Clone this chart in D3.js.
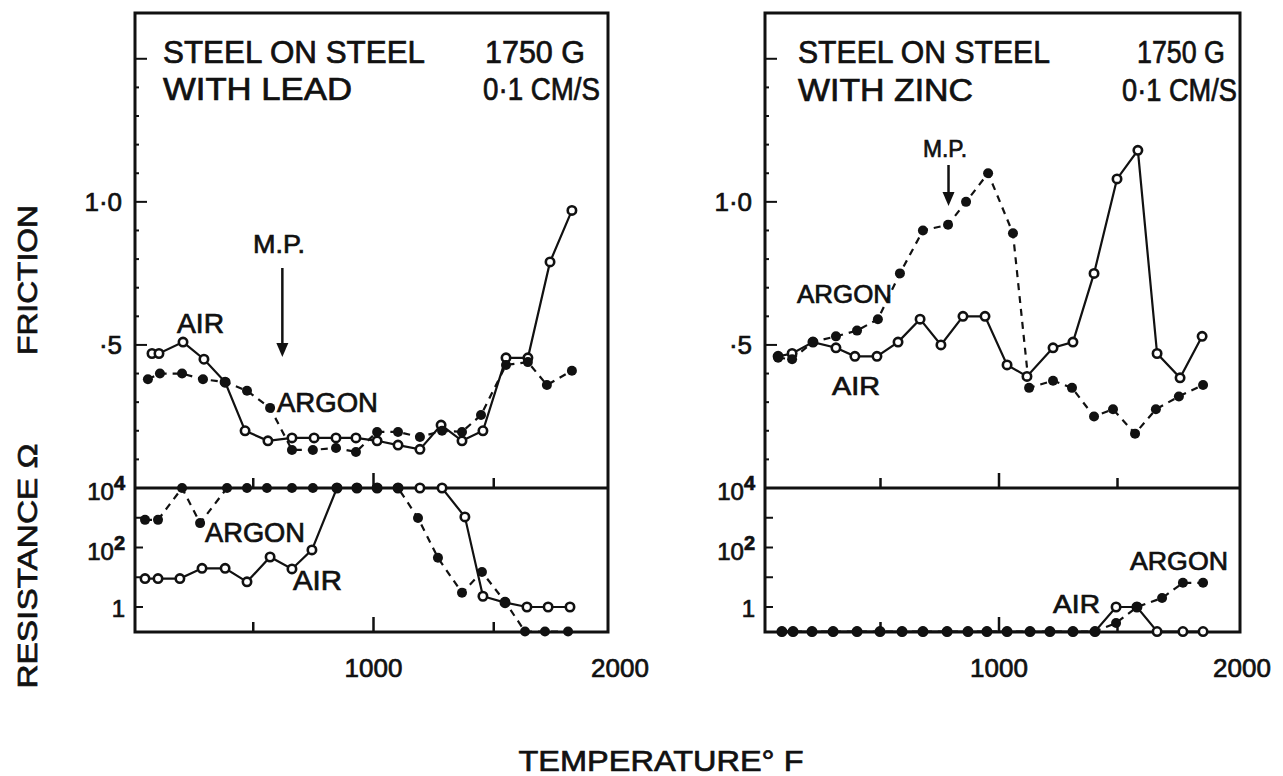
<!DOCTYPE html>
<html>
<head>
<meta charset="utf-8">
<script src="https://cdn.jsdelivr.net/npm/d3@7"></script>
<style>
  body { margin: 0; background: #fff; }
  text { font-family: "Liberation Sans", Arial, sans-serif; fill: #111; stroke: #111; stroke-width: 0.7px; }
</style>
</head>
<body>
<div class="chart"></div>
<script>
//Friction and contact resistance vs temperature, steel on steel with lead / zinc
const width = 1283;
const height = 776;

//Lead panel - friction
const leadAirTemp = [79, 108, 208, 295, 383, 466, 561, 661, 753, 844, 927, 1015, 1102, 1193, 1281, 1368, 1455, 1551, 1642, 1734, 1825];
const leadAirFriction = [0.47, 0.47, 0.51, 0.45, 0.37, 0.2, 0.165, 0.175, 0.175, 0.175, 0.175, 0.165, 0.15, 0.135, 0.22, 0.165, 0.2, 0.455, 0.455, 0.79, 0.97];
const leadArgonTemp = [62, 112, 204, 291, 383, 474, 570, 661, 748, 844, 927, 1015, 1102, 1193, 1285, 1368, 1447, 1551, 1642, 1721, 1825];
const leadArgonFriction = [0.38, 0.4, 0.4, 0.38, 0.37, 0.34, 0.28, 0.133, 0.133, 0.14, 0.126, 0.196, 0.196, 0.178, 0.2, 0.196, 0.255, 0.43, 0.44, 0.36, 0.41];
//Lead panel - resistance (ohm)
const leadAirResTemp = [50, 104, 195, 287, 383, 474, 570, 661, 744, 848, 931, 1015, 1102, 1193, 1285, 1380, 1455, 1547, 1638, 1726, 1817];
const leadAirRes = [9, 9, 9, 20, 20, 7, 48, 19, 83, 1e4, 1e4, 1e4, 1e4, 1e4, 1e4, 1070, 2.3, 1.4, 1, 1, 1];
const leadArgonResTemp = [50, 104, 204, 279, 391, 474, 557, 661, 748, 848, 931, 1015, 1102, 1185, 1268, 1368, 1451, 1547, 1630, 1713, 1809];
const leadArgonRes = [850, 850, 1e4, 660, 1e4, 1e4, 1e4, 1e4, 1e4, 1e4, 1e4, 1e4, 1e4, 980, 45, 3, 15, 1.5, 0.15, 0.15, 0.15];

//Zinc panel - friction
const zincAirTemp = [68, 127, 215, 312, 392, 485, 574, 667, 755, 848, 941, 1034, 1118, 1228, 1312, 1401, 1498, 1586, 1667, 1764, 1857];
const zincAirFriction = [0.46, 0.47, 0.51, 0.49, 0.46, 0.46, 0.51, 0.59, 0.5, 0.6, 0.6, 0.43, 0.39, 0.49, 0.51, 0.75, 1.08, 1.18, 0.47, 0.385, 0.53];
const zincArgonTemp = [68, 127, 215, 312, 401, 489, 582, 679, 785, 861, 954, 1059, 1127, 1228, 1308, 1401, 1481, 1574, 1662, 1759, 1861];
const zincArgonFriction = [0.455, 0.45, 0.51, 0.53, 0.55, 0.59, 0.75, 0.9, 0.92, 1.0, 1.1, 0.89, 0.35, 0.375, 0.35, 0.25, 0.275, 0.19, 0.275, 0.32, 0.36];
//Zinc panel - resistance (ohm)
const zincAirResTemp = [84, 131, 211, 300, 401, 498, 591, 679, 781, 869, 949, 1034, 1131, 1215, 1312, 1405, 1494, 1582, 1667, 1776, 1861];
const zincAirRes = [0.15, 0.15, 0.15, 0.15, 0.15, 0.15, 0.15, 0.15, 0.15, 0.15, 0.15, 0.15, 0.15, 0.15, 0.15, 0.15, 1, 1, 0.15, 0.15, 0.15];
const zincArgonResTemp = [84, 131, 211, 300, 401, 498, 591, 679, 781, 869, 949, 1034, 1131, 1215, 1312, 1405, 1494, 1582, 1688, 1776, 1861];
const zincArgonRes = [0.15, 0.15, 0.15, 0.15, 0.15, 0.15, 0.15, 0.15, 0.15, 0.15, 0.15, 0.15, 0.15, 0.15, 0.15, 0.15, 0.29, 1, 2, 6.5, 6.5];

//Melting points (deg F)
const leadMP = 621;
const zincMP = 787;

//Tick labels
const xTickLabels = [1000, 2000];
const frictionTicks = [1.0, 0.5];
const frictionTickLabels = ["1·0", "·5"];
const resTicks = [1e4, 1e2, 1];

const svg = d3.select(".chart")
              .append("svg")
              .attr("width", width)
              .attr("height", height)
              .style("background-color", "#FFFFFF");

const yTop = 13, yMid = 488, yBottom = 632;

const yFriction = d3.scaleLinear().domain([0, 1.66]).range([yMid, yTop]);
const yRes = d3.scaleLog().domain([Math.pow(10, -0.84), 1e4]).range([yBottom, yMid]);

function drawPanel(p) {
  const x = d3.scaleLinear().domain([0, 2000]).range(p.xRange);
  const g = svg.append("g");

  //frame
  g.append("rect")
   .attr("x", p.left).attr("y", yTop)
   .attr("width", p.right - p.left).attr("height", yBottom - yTop)
   .attr("fill", "none").attr("stroke", "#111").attr("stroke-width", 3);
  g.append("line")
   .attr("x1", p.left).attr("x2", p.right).attr("y1", yMid).attr("y2", yMid)
   .attr("stroke", "#111").attr("stroke-width", 3);

  //x ticks, inward, on divider and on bottom
  [500, 1000, 1500].forEach(t => {
    const len = t === 1000 ? 15 : 10;
    [yMid, yBottom].forEach(yy => {
      g.append("line")
       .attr("x1", x(t)).attr("x2", x(t)).attr("y1", yy).attr("y2", yy - len)
       .attr("stroke", "#111").attr("stroke-width", 2.5);
    });
  });
  xTickLabels.forEach(t => {
    g.append("text")
     .attr("x", x(t) + (t === 2000 ? 6 : 0)).attr("y", 677)
     .attr("text-anchor", "middle")
     .attr("font-size", 26)
     .text(t);
  });

  //friction ticks
  d3.range(1, 16).forEach(i => {
    const v = i / 10;
    const major = i % 5 === 0;
    g.append("line")
     .attr("x1", p.left).attr("x2", p.left + (major ? 12 : 4))
     .attr("y1", yFriction(v)).attr("y2", yFriction(v))
     .attr("stroke", "#111").attr("stroke-width", 2);
  });
  frictionTicks.forEach((v, i) => {
    g.append("text")
     .attr("x", p.left - 13).attr("y", yFriction(v) + 9)
     .attr("text-anchor", "end")
     .attr("font-size", 26)
     .text(frictionTickLabels[i]);
  });

  //resistance ticks
  [1, 10, 100, 1000].forEach(v => {
    g.append("line")
     .attr("x1", p.left).attr("x2", p.left + 8)
     .attr("y1", yRes(v)).attr("y2", yRes(v))
     .attr("stroke", "#111").attr("stroke-width", 2);
  });
  resTicks.forEach(v => {
    const t = g.append("text")
               .attr("x", p.left - 10).attr("y", yRes(v) + (v === 1 ? 10 : 12))
               .attr("text-anchor", "end")
               .attr("font-size", 24);
    if (v === 1) {
      t.text("1");
    } else {
      t.append("tspan").text("10");
      t.append("tspan").attr("dy", -10).attr("font-size", 20).attr("font-weight", "bold")
       .text(Math.round(Math.log10(v)));
    }
  });

  //series
  const fLine = d3.line().x(d => x(d[0])).y(d => yFriction(d[1]));
  const rLine = d3.line().x(d => x(d[0])).y(d => yRes(d[1]));
  const series = [
    {temp: p.airTemp, val: p.airFriction, line: fLine, y: yFriction, open: true},
    {temp: p.argonTemp, val: p.argonFriction, line: fLine, y: yFriction, open: false},
    {temp: p.airResTemp, val: p.airRes, line: rLine, y: yRes, open: true},
    {temp: p.argonResTemp, val: p.argonRes, line: rLine, y: yRes, open: false}
  ];
  series.forEach(s => {
    const pts = s.temp.map((t, i) => [t, s.val[i]]);
    g.append("path")
     .attr("d", s.line(pts))
     .attr("fill", "none")
     .attr("stroke", "#111")
     .attr("stroke-width", 2.2)
     .attr("stroke-dasharray", s.open ? null : "7,6");
  });
  series.forEach(s => {
    const pts = s.temp.map((t, i) => [t, s.val[i]]);
    g.selectAll(null)
     .data(pts)
     .enter()
     .append("circle")
     .attr("cx", d => x(d[0]))
     .attr("cy", d => s.y(d[1]))
     .attr("r", s.open ? 4.2 : 5)
     .attr("fill", s.open ? "#fff" : "#111")
     .attr("stroke", "#111")
     .attr("stroke-width", s.open ? 2.6 : 0);
  });

  //melting point arrow
  const mx = x(p.mp);
  g.append("line")
   .attr("x1", mx).attr("x2", mx).attr("y1", p.mpArrow[0]).attr("y2", p.mpArrow[1] - 12)
   .attr("stroke", "#111").attr("stroke-width", 2.5);
  g.append("path")
   .attr("d", `M${mx - 6},${p.mpArrow[1] - 14}L${mx + 6},${p.mpArrow[1] - 14}L${mx},${p.mpArrow[1]}Z`)
   .attr("fill", "#111");

  //texts
  p.labels.forEach(l => {
    g.append("text")
     .attr("x", l.x).attr("y", l.y)
     .attr("font-size", l.size)
     .attr("textLength", l.w)
     .attr("lengthAdjust", "spacingAndGlyphs")
     .text(l.text);
  });
}

drawPanel({
  left: 135, right: 608, xRange: [133, 614],
  airTemp: leadAirTemp, airFriction: leadAirFriction,
  argonTemp: leadArgonTemp, argonFriction: leadArgonFriction,
  airResTemp: leadAirResTemp, airRes: leadAirRes,
  argonResTemp: leadArgonResTemp, argonRes: leadArgonRes,
  mp: leadMP, mpArrow: [268, 357],
  labels: [
    {text: "STEEL ON STEEL", x: 163, y: 63, w: 262, size: 31},
    {text: "1750 G", x: 485, y: 63, w: 100, size: 31},
    {text: "WITH  LEAD", x: 163, y: 100, w: 189, size: 31},
    {text: "0·1 CM/S", x: 483, y: 100, w: 117, size: 31},
    {text: "AIR", x: 177, y: 333, w: 47, size: 27},
    {text: "M.P.", x: 253, y: 253, w: 52, size: 26},
    {text: "ARGON", x: 277, y: 412, w: 101, size: 27},
    {text: "ARGON", x: 205, y: 542, w: 100, size: 27},
    {text: "AIR", x: 293, y: 590, w: 49, size: 27}
  ]
});

drawPanel({
  left: 765, right: 1240, xRange: [762, 1236],
  airTemp: zincAirTemp, airFriction: zincAirFriction,
  argonTemp: zincArgonTemp, argonFriction: zincArgonFriction,
  airResTemp: zincAirResTemp, airRes: zincAirRes,
  argonResTemp: zincArgonResTemp, argonRes: zincArgonRes,
  mp: zincMP, mpArrow: [165, 206],
  labels: [
    {text: "STEEL ON STEEL", x: 798, y: 63, w: 252, size: 31},
    {text: "1750 G", x: 1137, y: 63, w: 88, size: 31},
    {text: "WITH  ZINC", x: 798, y: 101, w: 175, size: 31},
    {text: "0·1 CM/S", x: 1122, y: 101, w: 115, size: 31},
    {text: "M.P.", x: 923, y: 157, w: 44, size: 24},
    {text: "ARGON", x: 797, y: 303, w: 95, size: 25},
    {text: "AIR", x: 832, y: 395, w: 48, size: 25},
    {text: "ARGON", x: 1130, y: 570, w: 98, size: 25},
    {text: "AIR", x: 1053, y: 613, w: 47, size: 25}
  ]
});

//axis titles
svg.append("text")
   .attr("transform", "translate(37, 280) rotate(-90)")
   .attr("text-anchor", "middle")
   .attr("font-size", 28)
   .attr("textLength", 150).attr("lengthAdjust", "spacingAndGlyphs")
   .text("FRICTION");
svg.append("text")
   .attr("transform", "translate(37, 566) rotate(-90)")
   .attr("text-anchor", "middle")
   .attr("font-size", 28)
   .attr("textLength", 245).attr("lengthAdjust", "spacingAndGlyphs")
   .text("RESISTANCE Ω");
svg.append("text")
   .attr("x", 661).attr("y", 771)
   .attr("text-anchor", "middle")
   .attr("font-size", 30)
   .attr("textLength", 285).attr("lengthAdjust", "spacingAndGlyphs")
   .text("TEMPERATURE° F");
</script>
</body>
</html>
